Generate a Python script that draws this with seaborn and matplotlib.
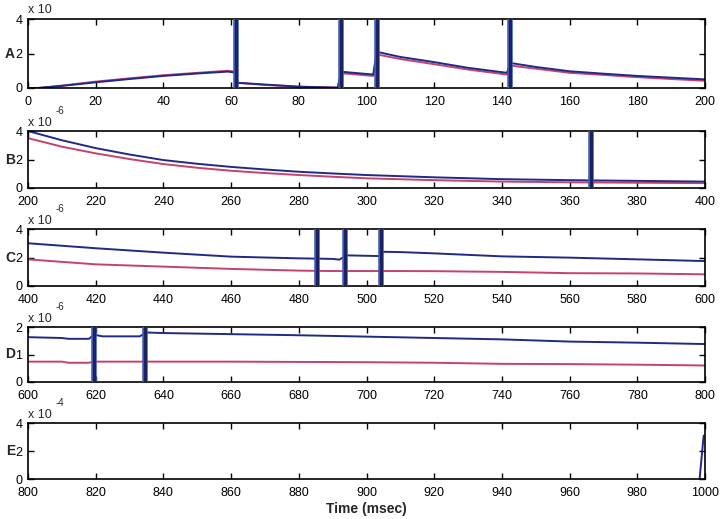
import matplotlib
matplotlib.use('Agg')
import matplotlib.pyplot as plt
import seaborn as sns

# --- data (scaled units) ---
A_t = [0, 3, 10, 20, 30, 40, 50, 59, 61, 62, 70, 80, 91.5, 92.5, 95, 102, 103, 110, 120, 130,
       141.5, 142.5, 150, 160, 170, 180, 190, 200]
A_blue = [0, 0, 0.12, 0.33, 0.52, 0.70, 0.84, 0.95, 0.90, 0.30, 0.20, 0.08, 0.02, 0.95, 0.90, 0.78,
          2.10, 1.80, 1.50, 1.17, 0.88, 1.45, 1.22, 0.97, 0.83, 0.70, 0.60, 0.50]
A_red = [0, 0, 0.14, 0.37, 0.56, 0.74, 0.88, 1.00, 0.95, 0.30, 0.18, 0.07, 0.02, 0.85, 0.82, 0.70,
         1.95, 1.68, 1.38, 1.07, 0.78, 1.30, 1.12, 0.88, 0.76, 0.63, 0.52, 0.42]
A_spikes = [61.5, 92.6, 103.0, 142.5]

B_t = [200, 210, 220, 230, 240, 250, 260, 270, 280, 290, 300, 320, 340, 360, 380, 400]
B_blue = [4.0, 3.35, 2.8, 2.35, 1.96, 1.7, 1.48, 1.3, 1.14, 1.02, 0.91, 0.75, 0.62, 0.55, 0.5, 0.45]
B_red = [3.5, 2.9, 2.43, 2.03, 1.68, 1.42, 1.21, 1.05, 0.91, 0.79, 0.68, 0.55, 0.45, 0.4, 0.37, 0.34]
B_spikes = [366.2]

C_t = [400, 420, 440, 460, 480, 486, 490, 492, 494, 500, 504, 505, 510, 520, 540, 560, 580, 600]
C_blue = [3.0, 2.65, 2.34, 2.06, 1.94, 1.92, 1.9, 1.85, 2.15, 2.12, 2.1, 2.4, 2.38, 2.29, 2.08,
          1.99, 1.87, 1.75]
C_red = [1.87, 1.52, 1.36, 1.2, 1.08, 1.06, 1.05, 1.05, 1.05, 1.05, 1.05, 1.05, 1.05, 1.04, 0.99,
         0.9, 0.88, 0.82]
C_spikes = [485.5, 493.6, 504.3]

D_t = [600, 610, 612, 618, 619.5, 622, 633, 635, 640, 660, 680, 700, 720, 740, 760, 780, 800]
D_blue = [1.63, 1.6, 1.57, 1.57, 1.72, 1.66, 1.66, 1.8, 1.78, 1.74, 1.7, 1.65, 1.6, 1.55, 1.47,
          1.43, 1.38]
D_red = [0.74, 0.74, 0.7, 0.7, 0.74, 0.74, 0.74, 0.74, 0.74, 0.74, 0.73, 0.72, 0.7, 0.66, 0.65,
         0.63, 0.6]
D_spikes = [619.5, 634.5]

E_t = [998.4, 999.1, 999.6]
E_blue = [0.0, 1.8, 3.1]

panels = [
    ('A', A_t, A_blue, A_red, A_spikes, (0, 200), [0, 2, 4], None),
    ('B', B_t, B_blue, B_red, B_spikes, (200, 400), [0, 2, 4], '-6'),
    ('C', C_t, C_blue, C_red, C_spikes, (400, 600), [0, 2, 4], '-6'),
    ('D', D_t, D_blue, D_red, D_spikes, (600, 800), [0, 1, 2], '-6'),
    ('E', E_t, E_blue, None, [], (800, 1000), [0, 2, 4], '-4'),
]

# axes boxes in pixels: (top, bottom)
boxes = [(19, 88), (131, 188), (229, 286), (327, 382), (423, 479)]

BLUE = '#1f2a86'
RED = '#c8406e'
W, H = 720, 519

sns.set_style('ticks')
plt.rcParams['font.family'] = ['Liberation Sans', 'DejaVu Sans']
plt.rcParams['font.size'] = 9

fig = plt.figure(figsize=(W / 100, H / 100), dpi=100)
left, right = 28, 705

for (letter, t, blue, red, spikes, xlim, yticks, expo), (top, bot) in zip(panels, boxes):
    ax = fig.add_axes([left / W, 1 - bot / H, (right - left) / W, (bot - top) / H])
    for s in spikes:
        ax.axvline(s, color='#3e5bb8', lw=4.0, zorder=3)
        ax.axvline(s, color='#1b2260', lw=2.2, zorder=4)
    if red is not None:
        sns.lineplot(x=t, y=red, ax=ax, color=RED, lw=1.4, zorder=2)
    sns.lineplot(x=t, y=blue, ax=ax, color=BLUE, lw=1.4, zorder=2)
    ax.set_xlim(*xlim)
    ax.set_ylim(yticks[0], yticks[-1])
    ax.set_xticks(range(xlim[0], xlim[1] + 1, 20))
    ax.set_yticks(yticks)
    ax.tick_params(direction='in', length=4, width=1, top=True, right=True,
                   labelsize=9, colors='black')
    ax.tick_params(axis='x', pad=6)
    ax.tick_params(axis='y', pad=4)
    for sp in ax.spines.values():
        sp.set_visible(True)
        sp.set_linewidth(1.2)
        sp.set_color('black')
    ax.set_facecolor('white')
    ax.text(-0.019, 0.5, letter, transform=ax.transAxes, ha='right', va='center',
            fontsize=10, fontweight='bold')
    ax.text(0.0, 1.04, 'x 10', transform=ax.transAxes, ha='left', va='bottom', fontsize=9)
    if expo:
        ax.text(0.04, 1.27, expo, transform=ax.transAxes, ha='left', va='bottom', fontsize=7)
    if letter == 'E':
        ax.set_xlabel('Time (msec)', fontsize=10, fontweight='bold', labelpad=2)

fig.savefig('out.png', dpi=100, facecolor='white')
